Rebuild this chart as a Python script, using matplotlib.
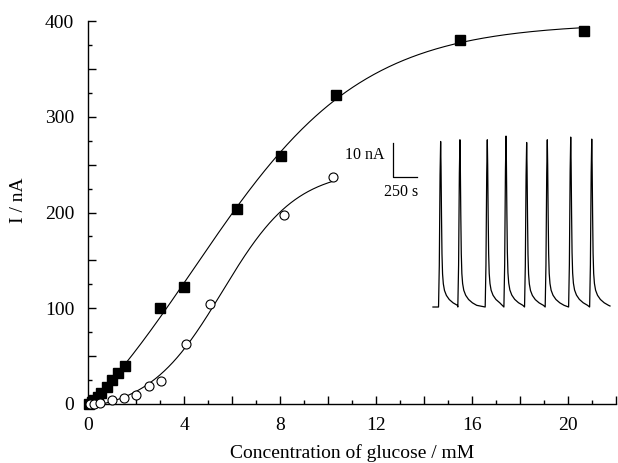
import numpy as np
import matplotlib
matplotlib.use('Agg')
from matplotlib import pyplot as plt
from matplotlib.ticker import MultipleLocator, FuncFormatter

plt.rcParams['font.family'] = ['Liberation Serif', 'DejaVu Serif']

# Curva de calibracion: sensor A (cuadrados) y sensor B (circulos)
conc_a = [0.05, 0.15, 0.25, 0.4, 0.55, 0.78, 1.0, 1.25, 1.53, 3.0, 4.0, 6.21, 8.03, 10.33, 15.5, 20.67]
curr_a = [0.5, 2, 4, 7, 12, 18, 25, 32, 40, 100, 122.5, 204, 259, 323, 380, 390]

conc_b = [0.1, 0.25, 0.5, 1.0, 1.5, 2.0, 2.55, 3.05, 4.08, 5.1, 8.17, 10.22]
curr_b = [0.0, 0.3, 1.0, 4.0, 6.5, 9.5, 19, 24, 63, 104, 197, 237]

# Registro de picos (inserto): tiempo del maximo (s) y altura (nA)
peak_t = [80, 281, 566, 761, 976, 1191, 1435, 1654]
peak_h = [49.1, 49.6, 49.6, 50.7, 48.8, 49.6, 50.4, 49.8]
# forma de un pico: desfase respecto al maximo (s) y fraccion de la altura
pulse_dt = [-22, -14, -6, 0, 4, 9, 14, 20, 28, 40, 60, 90, 130, 175]
pulse_fr = [0.0, 0.25, 0.8, 1.0, 0.85, 0.55, 0.32, 0.2, 0.14, 0.1, 0.07, 0.045, 0.025, 0.01]
trace_end = 1844


def ajuste_sigmoide(x, y):
    # Boltzmann y = a + b / (1 + exp(-(x - x0) / dx)), busqueda en rejilla
    x = np.asarray(x, float)
    y = np.asarray(y, float)
    x0s = np.linspace(0, 15, 301)[:, None, None]
    dxs = np.linspace(0.3, 8, 155)[None, :, None]
    s = 1 / (1 + np.exp(-(x[None, None, :] - x0s) / dxs))
    sm = s.mean(-1, keepdims=True)
    ym = y.mean()
    b = ((s - sm) * (y - ym)).sum(-1) / ((s - sm) ** 2).sum(-1)
    a = ym - b * sm[..., 0]
    err = ((a[..., None] + b[..., None] * s - y) ** 2).sum(-1)
    i, j = np.unravel_index(np.argmin(err), err.shape)
    a, b, x0, dx = a[i, j], b[i, j], x0s[i, 0, 0], dxs[0, j, 0]
    xs = np.linspace(0, x.max(), 400)
    return xs, a + b / (1 + np.exp(-(xs - x0) / dx))


fig = plt.figure(figsize=(6.18, 4.63), dpi=100)
ax = fig.add_axes([88 / 618, 59 / 463, 528 / 618, 383 / 463])

xa, ya = ajuste_sigmoide(conc_a, curr_a)
xb, yb = ajuste_sigmoide(conc_b, curr_b)
ax.plot(xa, ya, color='black', lw=0.8)
ax.plot(xb, yb, color='black', lw=0.8)

ax.plot(conc_a, curr_a, 's', color='black', ms=6.5, clip_on=False, zorder=3)
ax.plot(conc_b, curr_b, 'o', mfc='white', mec='black', mew=0.8, ms=6.5,
        clip_on=False, zorder=3)

ax.set_xlim(0, 22)
ax.set_ylim(0, 400)
for s in ['top', 'right']:
    ax.spines[s].set_visible(False)
for s in ['left', 'bottom']:
    ax.spines[s].set_linewidth(1.0)

ax.xaxis.set_major_locator(MultipleLocator(2))
ax.xaxis.set_minor_locator(MultipleLocator(1))
ax.xaxis.set_major_formatter(FuncFormatter(lambda v, p: '%d' % v if v % 4 == 0 else ''))
ax.yaxis.set_major_locator(MultipleLocator(50))
ax.yaxis.set_minor_locator(MultipleLocator(25))
ax.yaxis.set_major_formatter(FuncFormatter(lambda v, p: '%d' % v if v % 100 == 0 else ''))
ax.tick_params(which='both', direction='in', width=1.0, labelsize=14)
ax.tick_params(which='major', length=6)
ax.tick_params(which='minor', length=3)
ax.tick_params(axis='x', pad=9)
ax.tick_params(axis='y', pad=10)

ax.set_xlabel('Concentration of glucose / mM', fontsize=14, labelpad=8)
ax.set_ylabel('I / nA', fontsize=14)
ax.yaxis.set_label_coords(-0.115, 0.533)

# Inserto con el registro de corriente
ins = fig.add_axes([360 / 618, (463 - 315) / 463, 252 / 618, 185 / 463])
ins.axis('off')
ins.set_xlim(-760, 1865)
ins.set_ylim(-2.37, 52.5)

tt = [0.0]
ii = [0.0]
for k, (tp, h) in enumerate(zip(peak_t, peak_h)):
    limite = peak_t[k + 1] + pulse_dt[0] if k + 1 < len(peak_t) else trace_end
    for dt, fr in zip(pulse_dt, pulse_fr):
        if tp + dt < limite:
            tt.append(tp + dt)
            ii.append(h * fr)
tt.append(trace_end)
ii.append(0.3)
ins.plot(tt, ii, color='black', lw=0.9)

# Barra de escala
ins.plot([-417, -417, -167], [48.7, 38.7, 38.7], color='black', lw=0.9)
ins.text(-708, 45.1, '10 nA', fontsize=11.5, ha='center', va='center')
ins.text(-336, 34.2, '250 s', fontsize=11.5, ha='center', va='center')

plt.savefig('out.png', dpi=100)
